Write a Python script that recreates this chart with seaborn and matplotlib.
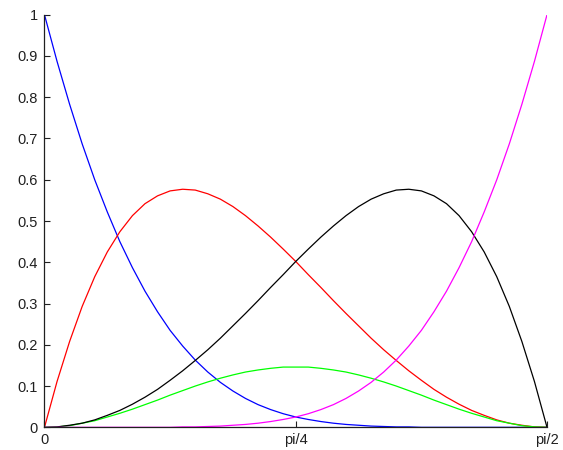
import numpy as np
import pandas as pd
import matplotlib
matplotlib.use("Agg")
import matplotlib.pyplot as plt
import seaborn as sns

# sample positions along [0, pi/2] (41 samples)
x_vals = np.linspace(0, np.pi / 2, 41)

blue = [1.000, 0.887, 0.783, 0.687, 0.600, 0.522, 0.450, 0.387, 0.330, 0.280,
        0.235, 0.197, 0.163, 0.134, 0.109, 0.088, 0.070, 0.055, 0.043, 0.033,
        0.025, 0.019, 0.014, 0.010, 0.007, 0.005, 0.003, 0.002, 0.001, 0.001,
        0.000, 0.000, 0.000, 0.000, 0.000, 0.000, 0.000, 0.000, 0.000, 0.000, 0.000]

red = [0.000, 0.111, 0.208, 0.293, 0.365, 0.425, 0.474, 0.513, 0.542, 0.561,
       0.573, 0.577, 0.575, 0.566, 0.553, 0.535, 0.513, 0.488, 0.461, 0.432,
       0.402, 0.370, 0.339, 0.307, 0.276, 0.246, 0.216, 0.188, 0.162, 0.137,
       0.114, 0.092, 0.073, 0.056, 0.041, 0.029, 0.018, 0.010, 0.005, 0.001, 0.000]

green = [0.000, 0.001, 0.004, 0.010, 0.016, 0.025, 0.034, 0.044, 0.055, 0.066,
         0.078, 0.089, 0.100, 0.110, 0.119, 0.127, 0.134, 0.139, 0.143, 0.146,
         0.146, 0.146, 0.143, 0.139, 0.134, 0.127, 0.119, 0.110, 0.100, 0.089,
         0.078, 0.066, 0.055, 0.044, 0.034, 0.025, 0.016, 0.010, 0.004, 0.001, 0.000]

black = [0.000, 0.001, 0.005, 0.010, 0.018, 0.029, 0.041, 0.056, 0.073, 0.092,
         0.114, 0.137, 0.162, 0.188, 0.216, 0.246, 0.276, 0.307, 0.339, 0.370,
         0.402, 0.432, 0.461, 0.488, 0.513, 0.535, 0.553, 0.566, 0.575, 0.577,
         0.573, 0.561, 0.542, 0.513, 0.474, 0.425, 0.365, 0.293, 0.208, 0.111, 0.000]

magenta = [0.000, 0.000, 0.000, 0.000, 0.000, 0.000, 0.000, 0.000, 0.000, 0.000,
           0.000, 0.001, 0.001, 0.002, 0.003, 0.005, 0.007, 0.010, 0.014, 0.019,
           0.025, 0.033, 0.043, 0.055, 0.070, 0.088, 0.109, 0.134, 0.163, 0.197,
           0.235, 0.280, 0.330, 0.387, 0.450, 0.522, 0.600, 0.687, 0.783, 0.887, 1.000]

series_names = ["b0", "b1", "b2", "b3", "b4"]
series_colors = ["#0000ff", "#ff0000", "#00ff00", "#000000", "#ff00ff"]

x_tick_pos = [0, np.pi / 4, np.pi / 2]
x_tick_labels = ["0", "pi/4", "pi/2"]
y_ticks = [0, 0.1, 0.2, 0.3, 0.4, 0.5, 0.6, 0.7, 0.8, 0.9, 1]
y_tick_labels = ["0", "0.1", "0.2", "0.3", "0.4", "0.5", "0.6", "0.7", "0.8", "0.9", "1"]

frames = []
for name, vals in zip(series_names, [blue, red, green, black, magenta]):
    frames.append(pd.DataFrame({"x": x_vals, "y": vals, "series": name}))
df = pd.concat(frames, ignore_index=True)

sns.set_style("white")
plt.rcParams["font.family"] = ["Liberation Sans", "DejaVu Sans"]

fig = plt.figure(figsize=(5.63, 4.5), dpi=100)
ax = fig.add_axes([0.079, 0.0504, 0.8926, 0.9169])

sns.lineplot(data=df, x="x", y="y", hue="series", hue_order=series_names,
             palette=series_colors, linewidth=0.9, legend=False, ax=ax,
             sort=False, estimator=None)

ax.set_xlim(0, np.pi / 2)
ax.set_ylim(0, 1)
ax.set_xticks(x_tick_pos)
ax.set_xticklabels(x_tick_labels)
ax.set_yticks(y_ticks)
ax.set_yticklabels(y_tick_labels)
ax.set_xlabel("")
ax.set_ylabel("")

for side in ["top", "right"]:
    ax.spines[side].set_visible(False)
for side in ["left", "bottom"]:
    ax.spines[side].set_color("#202020")
    ax.spines[side].set_linewidth(0.9)

ax.tick_params(axis="both", which="major", bottom=True, left=True,
               top=False, right=False, direction="in", length=4, width=0.8,
               colors="#202020", labelsize=10.5, labelcolor="#202020")
ax.tick_params(axis="y", pad=5)
ax.tick_params(axis="x", pad=4)

fig.savefig("out.png", dpi=100, facecolor="white")
